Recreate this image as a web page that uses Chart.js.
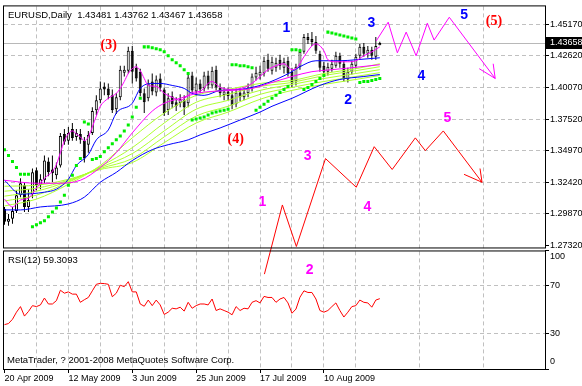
<!DOCTYPE html>
<html><head><meta charset="utf-8">
<script src="https://cdn.jsdelivr.net/npm/chart.js@4.4.1/dist/chart.umd.min.js"></script>
<style>html,body{margin:0;padding:0;background:#fff;overflow:hidden}#wrap{width:582px;height:386px}</style>
</head><body><div id="wrap"><canvas id="c" width="582" height="386"></canvas></div>
<script>
// ---------- texts ----------
const symbolTitle = 'EURUSD,Daily  1.43481 1.43762 1.43467 1.43658';
const rsiTitle = 'RSI(12) 59.3093';
const copyright = 'MetaTrader, ? 2001-2008 MetaQuotes Software Corp.';
const dateLabels = ['20 Apr 2009','12 May 2009','3 Jun 2009','25 Jun 2009','17 Jul 2009','10 Aug 2009'];
const xGridBars = [0,8,16,24,32,40,48,56,64,72,80,88,96,104,112,120,128];
const priceTicks = [1.2732,1.2987,1.3242,1.3497,1.3752,1.4007,1.4262,1.4517];
const rsiTicks = [0,30,70,100];
const lastPrice = 1.43658;

// ---------- daily candles (bar 0 = 20 Apr 2009) ----------
const opens = [1.3027,1.2923,1.2947,1.3011,1.3138,1.3218,1.3043,1.3146,1.3338,1.3218,
1.3258,1.3409,1.3345,1.3298,1.3377,1.3632,1.3577,1.3672,1.3608,1.3632,
1.3577,1.3545,1.3640,1.3823,1.3903,1.4015,1.3999,1.3943,1.3831,1.3927,
1.4126,1.4142,1.4302,1.4166,1.4134,1.3959,1.3919,1.4055,1.3967,1.4079,
1.3991,1.3823,1.3935,1.3887,1.3879,1.3903,1.3879,1.4103,1.3975,1.4039,
1.3999,1.4103,1.4023,1.4150,1.4007,1.3943,1.3975,1.3943,1.3871,1.3967,
1.3927,1.3959,1.3999,1.4087,1.4103,1.4119,1.4230,1.4142,1.4166,1.4230,
1.4166,1.4222,1.4134,1.4055,1.4174,1.4294,1.4413,1.4397,1.4374,1.4278,
1.4182,1.4134,1.4158,1.4182,1.4262,1.4198,1.4071,1.4134,1.4182,1.4262,
1.4334,1.4278,1.4310,1.4254,1.43481];
const highs = [1.3043,1.2987,1.3043,1.3178,1.3274,1.3242,1.3186,1.3353,1.3361,1.3306,
1.3457,1.3441,1.3457,1.3401,1.3640,1.3672,1.3688,1.3720,1.3672,1.3672,
1.3608,1.3656,1.3847,1.3943,1.4055,1.4047,1.4039,1.3991,1.3959,1.4182,
1.4182,1.4334,1.4342,1.4198,1.4158,1.3999,1.4071,1.4119,1.4103,1.4119,
1.4007,1.3959,1.3975,1.3927,1.3951,1.3943,1.4119,1.4134,1.4087,1.4071,
1.4134,1.4142,1.4174,1.4182,1.4039,1.4007,1.4007,1.3983,1.3999,1.4007,
1.3999,1.4039,1.4119,1.4174,1.4182,1.4254,1.4278,1.4254,1.4246,1.4270,
1.4246,1.4254,1.4166,1.4198,1.4318,1.4437,1.4445,1.4453,1.4421,1.4302,
1.4214,1.4206,1.4230,1.4294,1.4286,1.4222,1.4166,1.4222,1.4278,1.4358,
1.4366,1.4342,1.4334,1.4413,1.43762];
const lows = [1.2899,1.2891,1.2907,1.2995,1.3122,1.3003,1.3003,1.3114,1.3178,1.3186,
1.3234,1.3290,1.3242,1.3266,1.3361,1.3545,1.3545,1.3577,1.3577,1.3553,
1.3401,1.3481,1.3624,1.3784,1.3879,1.3943,1.3911,1.3800,1.3792,1.3903,
1.4095,1.4119,1.4039,1.4055,1.3935,1.3800,1.3895,1.3943,1.3935,1.3975,
1.3776,1.3784,1.3839,1.3816,1.3847,1.3784,1.3847,1.3959,1.3935,1.3959,
1.3975,1.3991,1.3999,1.3983,1.3927,1.3903,1.3903,1.3831,1.3847,1.3895,
1.3903,1.3927,1.3975,1.4063,1.4071,1.4095,1.4134,1.4111,1.4134,1.4150,
1.4119,1.4095,1.4007,1.4023,1.4150,1.4278,1.4358,1.4342,1.4278,1.4134,
1.4103,1.4103,1.4134,1.4166,1.4166,1.4055,1.4047,1.4111,1.4158,1.4238,
1.4254,1.4246,1.4230,1.4230,1.43467];
const closes = [1.2923,1.2947,1.3011,1.3138,1.3234,1.3043,1.3099,1.3322,1.3218,1.3266,
1.3417,1.3322,1.3314,1.3361,1.3616,1.3569,1.3640,1.3600,1.3640,1.3584,
1.3433,1.3624,1.3816,1.3903,1.3999,1.3991,1.3943,1.3823,1.3927,1.4150,
1.4150,1.4302,1.4134,1.4079,1.3959,1.3887,1.4039,1.3975,1.4071,1.4007,
1.3800,1.3919,1.3871,1.3855,1.3911,1.3847,1.4087,1.3983,1.4039,1.3991,
1.4103,1.4023,1.4142,1.4007,1.3959,1.3975,1.3935,1.3863,1.3967,1.3927,
1.3967,1.4007,1.4095,1.4126,1.4134,1.4222,1.4158,1.4214,1.4206,1.4182,
1.4214,1.4119,1.4039,1.4174,1.4294,1.4413,1.4389,1.4374,1.4302,1.4166,
1.4134,1.4174,1.4198,1.4262,1.4198,1.4079,1.4134,1.4198,1.4254,1.4334,
1.4278,1.4310,1.4262,1.4342,1.43658];

// ---------- moving averages (bar index, price) ----------
const fastMagX = [0,2,4,6,8,10,12,13,14,15,16,17,18,19,20,21,22,23,24,26,28,29,30,31,32,33,34,35,36,38,40,42,44,46,47,49,51,52,54,57,60,62,64,66,68,70,72,73,75,77,78,80,81,83,86,88,90,92,94];
const fastMagY = [1.3106,1.3043,1.3099,1.3114,1.3194,1.3274,1.3330,1.3385,1.3481,1.3577,1.3632,1.3656,1.3632,1.3608,1.3577,1.3608,1.3688,1.3776,1.3855,1.3919,1.3959,1.3999,1.4055,1.4119,1.4158,1.4174,1.4142,1.4079,1.4023,1.4015,1.3959,1.3927,1.3903,1.3943,1.3967,1.3975,1.4039,1.4055,1.4007,1.3991,1.4007,1.4039,1.4095,1.4150,1.4182,1.4198,1.4150,1.4158,1.4254,1.4342,1.4358,1.4302,1.4230,1.4214,1.4214,1.4222,1.4262,1.4294,1.4334];
const slowMagX = [0,8,13,19,24,28,32,37,40,44,48,52,57,62,67,72,77,82,87,94];
const slowMagY = [1.3258,1.3234,1.3234,1.3258,1.3361,1.3481,1.3640,1.3816,1.3879,1.3919,1.3959,1.3975,1.3983,1.3999,1.4047,1.4095,1.4134,1.4150,1.4166,1.4190];
const blueFastX = [0,4,10,13,16,18,21,23,26,28,32,34,37,39,42,45,47,50,54,59,64,68,72,74,78,84,88,94];
const blueFastY = [1.3258,1.3146,1.3162,1.3186,1.3266,1.3377,1.3465,1.3584,1.3664,1.3800,1.3879,1.3999,1.4039,1.4039,1.4023,1.3999,1.3959,1.3943,1.3983,1.3991,1.4023,1.4071,1.4134,1.4174,1.4222,1.4222,1.4230,1.4246];
const blueSlowX = [0,4,9,16,20,24,28,32,37,41,46,49,54,59,64,67,72,79,84,90,94];
const blueSlowY = [1.3019,1.3019,1.3043,1.3067,1.3122,1.3242,1.3322,1.3417,1.3505,1.3545,1.3584,1.3624,1.3680,1.3744,1.3808,1.3855,1.3919,1.4023,1.4071,1.4095,1.4111];
const ribbonX = [0,8,16,24,32,40,48,56,64,72,80,88,94];
const ribbon1 = [1.3051,1.3106,1.3226,1.3377,1.3600,1.3800,1.3943,1.3991,1.4039,1.4063,1.4119,1.4158,1.4198];
const ribbon2 = [1.3091,1.3138,1.3242,1.3369,1.3521,1.3720,1.3887,1.3951,1.4015,1.4047,1.4103,1.4142,1.4174];
const ribbon3 = [1.3130,1.3170,1.3250,1.3361,1.3473,1.3656,1.3831,1.3903,1.3983,1.4031,1.4079,1.4119,1.4150];
const ribbon4 = [1.3170,1.3194,1.3258,1.3353,1.3433,1.3608,1.3776,1.3855,1.3951,1.4007,1.4055,1.4095,1.4126];
const ribbon5 = [1.3210,1.3218,1.3266,1.3345,1.3401,1.3561,1.3720,1.3808,1.3911,1.3983,1.4031,1.4071,1.4103];

// ---------- parabolic SAR (one per bar) ----------
const sar = [1.3505,1.3457,1.3409,1.3361,1.3306,1.3306,1.3306,
1.2883,1.2899,1.2915,1.2931,1.2963,1.3003,1.3035,1.3083,1.3138,1.3218,1.3298,1.3377,1.3433,
1.3728,1.3712,
1.3425,1.3433,1.3449,1.3489,1.3521,1.3553,1.3584,1.3616,1.3656,1.3704,1.3768,1.3847,1.3919,
1.4334,1.4334,1.4326,1.4318,1.4310,1.4294,1.4262,1.4230,1.4206,1.4182,1.4150,1.4119,
1.3744,1.3752,1.3760,1.3768,1.3784,1.3800,1.3808,1.3816,1.3823,1.3831,
1.4190,1.4190,1.4182,1.4182,1.4174,1.4166,
1.3823,1.3847,1.3871,1.3895,1.3919,1.3943,1.3967,1.3991,1.4015,
1.4310,1.4310,1.4302,
1.3991,1.4007,1.4031,1.4055,1.4079,1.4103,
1.4453,1.4445,1.4437,1.4429,1.4421,1.4413,1.4405,1.4397,
1.4047,1.4055,1.4055,1.4063,1.4071,1.4079];

// ---------- RSI(12) ----------
const rsi = [37.4,38.3,41.9,47.9,52.6,44.6,48.5,53.4,52.6,54.0,
59.8,54.8,54.8,57.6,66.4,63.9,65.0,63.1,63.1,56.2,
58.4,60.3,65.9,71.4,72.2,72.0,71.4,60.9,63.9,70.6,
69.4,73.6,65.0,65.0,54.8,52.9,58.1,53.4,58.1,54.0,
46.0,47.9,51.2,50.7,52.1,48.8,56.2,51.2,53.4,54.8,
54.8,54.0,59.0,49.3,50.7,49.3,47.9,45.7,52.6,49.3,
51.2,50.7,56.2,57.6,55.7,61.2,60.3,60.3,56.2,59.0,
60.3,55.7,47.0,50.5,60.5,65.9,64.5,64.5,59.0,49.3,
47.9,49.3,52.6,55.7,49.3,43.8,47.9,52.6,53.4,58.1,
56.2,55.7,52.1,58.1,59.3];

// ---------- Elliott wave projections ----------
const waveMagX = [93.1,96.1,98.4,100.6,103.1,105.9,107.6,111.4,122.9];
const waveMagY = [1.4382,1.4533,1.4286,1.4453,1.4262,1.4525,1.4389,1.4573,1.4079];
const arrowMagX = [118.9,122.9,122.4];
const arrowMagY = [1.4158,1.4079,1.4198];
const waveRedX = [65.1,69.6,73.1,80.4,88.1,92.6,97.1,102.9,105.4,109.9,119.6];
const waveRedY = [1.2501,1.3059,1.2724,1.3433,1.3202,1.3529,1.3345,1.3600,1.3497,1.3656,1.3242];
const arrowRedX = [115.1,119.6,119.1];
const arrowRedY = [1.3306,1.3242,1.3353];
const waveText = ['1','2','3','4','5','(3)','(4)','(5)','1','2','3','4','5'];
const waveDegree = ['minor','minor','minor','minor','minor','intermediate','intermediate','intermediate','minute','minute','minute','minute','minute'];
const waveX = [70.6,86.1,91.9,104.4,115.1,26.1,57.9,122.6,64.6,76.4,75.9,90.9,110.9];
const waveY = [1.4485,1.3903,1.4525,1.4095,1.4589,1.4342,1.3584,1.4541,1.3083,1.2533,1.3449,1.3043,1.3760];

// ---------- styling ----------
const FONT = "'Liberation Sans', Arial, sans-serif";
const gridColor = '#c0c0c0';
const clear = 'rgba(0,0,0,0)';
const degreeStyle = {
  minor: {color: '#0000ff', font: "bold 14px 'Liberation Sans', Arial, sans-serif"},
  intermediate: {color: '#ff0000', font: "bold 14px 'Liberation Serif', 'Times New Roman', serif"},
  minute: {color: '#ff00ff', font: "bold 14px 'Liberation Sans', Arial, sans-serif"}
};

const pts = (xs, ys) => xs.map((x, i) => ({x, y: ys[i]}));
const lineDs = (xs, ys, color, order, extra) => Object.assign({
  type: 'line', data: pts(xs, ys), borderColor: color, borderWidth: 1, pointRadius: 0,
  cubicInterpolationMode: 'monotone', yAxisID: 'y', order
}, extra || {});

const datasets = [
  {type: 'bar', data: lows.map((l, i) => ({x: i, y: [l, highs[i]]})), backgroundColor: '#000',
   borderWidth: 0, barThickness: 1, grouped: false, inflateAmount: 0, minBarLength: 1, yAxisID: 'y', order: 9},
  {type: 'bar', data: opens.map((o, i) => ({x: i, y: [o, closes[i]]})),
   backgroundColor: ctx => closes[ctx.dataIndex] > opens[ctx.dataIndex] ? '#ffffff' : '#000000',
   borderColor: '#000', borderWidth: 1, borderSkipped: false, barThickness: 3, grouped: false,
   inflateAmount: 0, minBarLength: 1, yAxisID: 'y', order: 8},
  lineDs(ribbonX, ribbon5, '#adff2f', 7),
  lineDs(ribbonX, ribbon4, '#adff2f', 7),
  lineDs(ribbonX, ribbon3, '#adff2f', 7),
  lineDs(ribbonX, ribbon2, '#adff2f', 7),
  lineDs(ribbonX, ribbon1, '#adff2f', 7),
  lineDs(blueSlowX, blueSlowY, '#0000ff', 6),
  lineDs(blueFastX, blueFastY, '#0000ff', 6),
  lineDs(slowMagX, slowMagY, '#ff00ff', 5),
  lineDs(fastMagX, fastMagY, '#ff00ff', 5),
  {type: 'line', data: sar.map((v, i) => ({x: i, y: v})), showLine: false, pointStyle: 'rect',
   pointRadius: 2.13, pointBackgroundColor: '#00ee00', pointBorderWidth: 0, yAxisID: 'y', order: 4},
  {type: 'line', data: rsi.map((v, i) => ({x: i, y: v})), borderColor: '#ff0000', borderWidth: 1,
   pointRadius: 0, yAxisID: 'y2', order: 3},
  lineDs(waveMagX, waveMagY, '#ff00ff', 1, {cubicInterpolationMode: 'default', tension: 0}),
  lineDs(arrowMagX, arrowMagY, '#ff00ff', 1, {cubicInterpolationMode: 'default', tension: 0}),
  lineDs(waveRedX, waveRedY, '#ff0000', 1, {cubicInterpolationMode: 'default', tension: 0, clip: false}),
  lineDs(arrowRedX, arrowRedY, '#ff0000', 1, {cubicInterpolationMode: 'default', tension: 0, clip: false})
];

const mtPlugin = {
  id: 'mt',
  beforeDatasetsDraw(chart) {
    const {ctx, chartArea: ca, scales: {y}} = chart;
    ctx.save();
    ctx.fillStyle = '#fff';
    ctx.fillRect(ca.left, y.bottom, ca.right - ca.left, 2);
    const py = Math.round(y.getPixelForValue(lastPrice)) + 0.5;
    ctx.strokeStyle = '#b8b8b8'; ctx.lineWidth = 1;
    ctx.beginPath(); ctx.moveTo(ca.left, py); ctx.lineTo(ca.right, py); ctx.stroke();
    ctx.restore();
  },
  afterDatasetsDraw(chart) {
    const {ctx, chartArea: ca, scales: {x, y, y2}} = chart;
    ctx.save();
    // panel frames
    ctx.strokeStyle = '#000'; ctx.lineWidth = 1;
    ctx.strokeRect(ca.left - 0.5, y.top - 0.5, ca.right - ca.left + 1, y.bottom - y.top);
    ctx.strokeRect(ca.left - 0.5, y2.top + 2.5, ca.right - ca.left + 1, y2.bottom - y2.top - 2);
    // wave labels
    ctx.textAlign = 'center'; ctx.textBaseline = 'middle';
    waveText.forEach((t, i) => {
      const st = degreeStyle[waveDegree[i]];
      ctx.font = st.font; ctx.fillStyle = st.color;
      ctx.fillText(t, x.getPixelForValue(waveX[i]), y.getPixelForValue(waveY[i]));
    });
    // captions
    ctx.textAlign = 'left'; ctx.fillStyle = '#000';
    ctx.font = '9.5px ' + FONT;
    ctx.fillText(symbolTitle, ca.left + 4, y.top + 9);
    ctx.fillText(rsiTitle, ca.left + 4, y2.top + 12);
    ctx.fillText(copyright, ca.left + 3, y2.bottom - 9);
    // clamped RSI labels
    ctx.font = '9px ' + FONT;
    ctx.fillText(String(rsiTicks[3]), ca.right + 5, y2.top + 8);
    ctx.fillText(String(rsiTicks[0]), ca.right + 5, y2.bottom - 7);
    // last price box
    const py = Math.round(y.getPixelForValue(lastPrice));
    ctx.fillStyle = '#000';
    ctx.fillRect(ca.right + 1, py - 6, chart.width - ca.right - 1, 12);
    ctx.fillStyle = '#fff';
    ctx.fillText(lastPrice.toFixed(5), ca.right + 5, py);
    ctx.restore();
  }
};

new Chart(document.getElementById('c'), {
  type: 'bar',
  data: {datasets},
  options: {
    responsive: false, animation: false, devicePixelRatio: 1, events: [],
    layout: {padding: {left: 3, top: 2, right: 0, bottom: 0}},
    plugins: {legend: {display: false}, tooltip: {enabled: false}},
    scales: {
      x: {
        type: 'linear', min: -0.125, max: 135.375, offset: false,
        afterBuildTicks: s => { s.ticks = xGridBars.map(v => ({value: v})); },
        afterFit: s => { s.height = 17; },
        grid: {offset: false, color: c => (c.tick && c.tick.value === 0) ? clear : gridColor,
               tickLength: 4, tickColor: c => (c.tick && c.tick.value % 16 === 0) ? '#000' : clear},
        border: {display: false, dash: [4, 3]},
        ticks: {align: 'start', maxRotation: 0, autoSkip: false, padding: 0, color: '#000',
                font: {family: FONT, size: 9},
                callback: v => v % 16 === 0 ? dateLabels[v / 16] : ''}
      },
      y: {
        type: 'linear', position: 'right', stack: 'panes', stackWeight: 245,
        min: 1.270808, max: 1.466044, beginAtZero: false,
        afterBuildTicks: s => { s.ticks = priceTicks.map(v => ({value: v})); },
        afterFit: s => { s.width = 37; },
        grid: {color: c => (c.tick && c.tick.value < priceTicks[1]) ? clear : gridColor,
               tickLength: 4, tickColor: '#000'},
        border: {display: false, dash: [4, 3]},
        ticks: {padding: 1, color: '#000', font: {family: FONT, size: 9}, callback: v => v.toFixed(5)}
      },
      y2: {
        type: 'linear', position: 'right', stack: 'panes', stackWeight: 122,
        min: 0, max: 101.6, beginAtZero: false,
        afterBuildTicks: s => { s.ticks = rsiTicks.map(v => ({value: v})); },
        afterFit: s => { s.width = 37; },
        grid: {color: c => (c.tick && (c.tick.value === 30 || c.tick.value === 70)) ? gridColor : clear,
               tickLength: 4, tickColor: '#000'},
        border: {display: false, dash: [4, 3]},
        ticks: {padding: 1, color: '#000', font: {family: FONT, size: 9},
                callback: v => (v === 30 || v === 70) ? String(v) : ''}
      }
    }
  },
  plugins: [mtPlugin]
});
</script></body></html>
